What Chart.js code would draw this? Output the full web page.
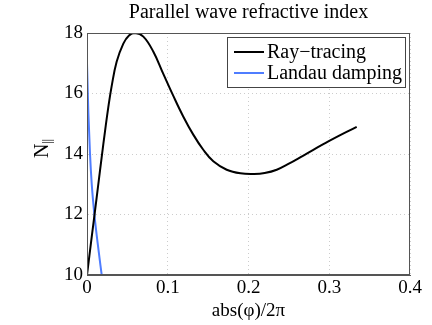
<!DOCTYPE html>
<html>
<head>
<meta charset="utf-8">
<script src="https://cdn.jsdelivr.net/npm/chart.js@4"></script>
<style>
  html, body { margin: 0; padding: 0; background: #fff; }
  #wrap { width: 432px; height: 325px; }
</style>
</head>
<body>
<div id="wrap"><canvas id="waveChart" width="432" height="325"></canvas></div>
<script>
// values
const rayX = [0, 0.0058, 0.0099, 0.014, 0.0182, 0.0223, 0.0264, 0.0306, 0.0367, 0.045, 0.052, 0.0594, 0.0698, 0.0822, 0.0945, 0.1069, 0.119, 0.1316, 0.144, 0.1564, 0.173, 0.19, 0.207, 0.22, 0.235, 0.25, 0.268, 0.3, 0.334];
const rayY = [10, 11.25, 12.12, 13.0, 13.9, 14.75, 15.55, 16.25, 17.05, 17.65, 17.92, 18, 17.88, 17.38, 16.65, 15.92, 15.25, 14.64, 14.14, 13.76, 13.48, 13.36, 13.34, 13.37, 13.48, 13.68, 13.95, 14.43, 14.9];

const landauX = [0, 0.0017, 0.0037, 0.0058, 0.009, 0.0132, 0.0182];
const landauY = [17, 15.35, 14.02, 13.03, 12.04, 11.05, 10];

const seriesNames = ["Ray\u2212tracing", "Landau damping"];
const chartTitle = "Parallel wave refractive index";
const xTicks = [0, 0.1, 0.2, 0.3, 0.4];
const yTicks = [10, 12, 14, 16, 18];

const serif = "'Liberation Serif', 'Times New Roman', serif";

function toPoints(xs, ys) {
  return xs.map((x, i) => ({ x: x, y: ys[i] }));
}

// title, frame, legend and y label drawn on top, MATLAB style
const decorPlugin = {
  id: 'decor',
  afterDraw(chart) {
    const ctx = chart.ctx;
    const a = chart.chartArea;
    ctx.save();

    // title centred over the axes
    ctx.fillStyle = '#000';
    ctx.font = '20px ' + serif;
    ctx.textAlign = 'center';
    ctx.textBaseline = 'alphabetic';
    ctx.fillText(chartTitle, (a.left + a.right) / 2, 18);
    ctx.textAlign = 'left';

    // box around the axes
    ctx.strokeStyle = '#555';
    ctx.lineWidth = 1;
    ctx.strokeRect(a.left + 0.5, a.top + 0.5, a.right - a.left - 1, a.bottom - a.top - 1);

    // legend
    const bw = 178, bh = 50;
    const bx = a.right - bw - 5, by = a.top + 4;
    ctx.fillStyle = '#fff';
    ctx.fillRect(bx, by, bw, bh);
    ctx.strokeStyle = '#444';
    ctx.strokeRect(bx + 0.5, by + 0.5, bw, bh);
    ctx.font = '20px ' + serif;
    ctx.textBaseline = 'middle';
    chart.data.datasets.forEach((ds, i) => {
      const ly = by + 15 + i * 21;
      ctx.strokeStyle = ds.borderColor;
      ctx.lineWidth = 2;
      ctx.beginPath();
      ctx.moveTo(bx + 7, ly);
      ctx.lineTo(bx + 37, ly);
      ctx.stroke();
      ctx.fillStyle = '#000';
      ctx.fillText(ds.label, bx + 40, ly + 1);
    });

    // y label: N with a subscript ||
    ctx.translate(42, (a.top + a.bottom) / 2 + 4);
    ctx.rotate(-Math.PI / 2);
    ctx.fillStyle = '#000';
    ctx.textBaseline = 'alphabetic';
    ctx.font = '20px ' + serif;
    ctx.fillText('N', 0, 6);
    ctx.font = '13px ' + serif;
    ctx.fillText('||', 14, 9);
    ctx.restore();
  }
};

const ctx = document.getElementById('waveChart').getContext('2d');
const chart = new Chart(ctx, {
  type: 'scatter',
  data: {
    datasets: [{
      label: seriesNames[0],
      data: toPoints(rayX, rayY),
      showLine: true,
      borderColor: '#000000',
      borderWidth: 2,
      pointRadius: 0,
      tension: 0.4
    }, {
      label: seriesNames[1],
      data: toPoints(landauX, landauY),
      showLine: true,
      borderColor: '#4f7dff',
      borderWidth: 2,
      pointRadius: 0,
      cubicInterpolationMode: 'monotone'
    }]
  },
  options: {
    responsive: false,
    animation: false,
    layout: { padding: { left: 0, right: 22, top: 33, bottom: 0 } },
    plugins: {
      legend: { display: false },
      tooltip: { enabled: false },
      title: { display: false }
    },
    scales: {
      x: {
        type: 'linear',
        min: 0,
        max: 0.4,
        afterBuildTicks: (scale) => { scale.ticks = xTicks.map(v => ({ value: v })); },
        ticks: {
          color: '#000',
          font: { family: serif, size: 19 },
          padding: 2,
          callback: (v) => String(v)
        },
        grid: { color: '#cccccc', lineWidth: 1, drawTicks: false },
        border: { display: true, color: '#555', dash: [1, 3] },
        title: {
          display: true,
          text: 'abs(\u03c6)/2\u03c0',
          color: '#000',
          font: { family: serif, size: 19 },
          padding: { top: 0, bottom: 3 }
        },
        afterFit: (scale) => { scale.height = 50; }
      },
      y: {
        type: 'linear',
        min: 10,
        max: 18,
        afterBuildTicks: (scale) => { scale.ticks = yTicks.map(v => ({ value: v })); },
        ticks: {
          color: '#000',
          font: { family: serif, size: 19 },
          padding: 4
        },
        grid: { color: '#cccccc', lineWidth: 1, drawTicks: false },
        border: { display: true, color: '#555', dash: [1, 3] },
        afterFit: (scale) => { scale.width = 87; }
      }
    }
  },
  plugins: [decorPlugin]
});
</script>
</body>
</html>
